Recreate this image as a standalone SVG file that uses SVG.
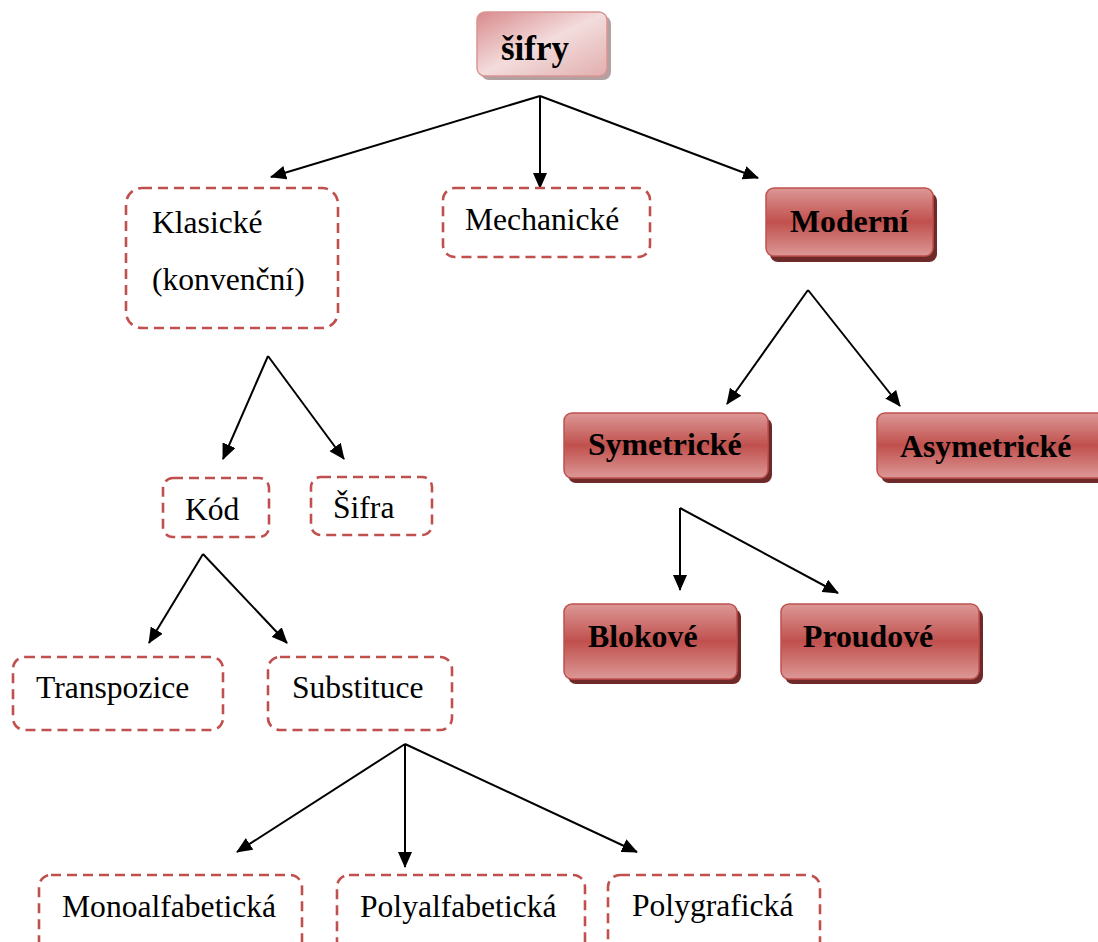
<svg xmlns="http://www.w3.org/2000/svg" width="1098" height="942" viewBox="0 0 1098 942">
  <style>
    .dash { fill: #ffffff; stroke: #c0504d; stroke-width: 2.6; stroke-dasharray: 10 6; }
    .red { fill: url(#redGrad); stroke: #c0504d; stroke-width: 1.5; }
    .redShadow { fill: #6e2a28; }
    text { font-family: 'Liberation Serif', 'Times New Roman', 'DejaVu Serif', serif; fill: #000; }
    .t { font-size: 31.6px; }
    .tb { font-size: 31.8px; font-weight: bold; }
    .edge { stroke: #000; stroke-width: 2; fill: none; marker-end: url(#arrow); }
  </style>
  <defs>
    <linearGradient id="redGrad" x1="0" y1="0" x2="0" y2="1">
      <stop offset="0" stop-color="#dc9896"/>
      <stop offset="0.5" stop-color="#c0504d"/>
      <stop offset="1" stop-color="#dc9896"/>
    </linearGradient>
    <linearGradient id="pinkGrad" x1="0" y1="0" x2="1" y2="1">
      <stop offset="0" stop-color="#d98a8c"/>
      <stop offset="0.5" stop-color="#f3dcdc"/>
      <stop offset="1" stop-color="#e2aeae"/>
    </linearGradient>
    <marker id="arrow" viewBox="0 0 16 14" refX="15" refY="7" markerWidth="16" markerHeight="14" markerUnits="userSpaceOnUse" orient="auto">
      <path d="M0,0 L16,7 L0,14 Z" fill="#000"/>
    </marker>
  </defs>

  <!-- connectors -->
  <g id="connectors">
    <line class="edge" x1="540" y1="96" x2="271" y2="177"/>
    <line class="edge" x1="540" y1="96" x2="540" y2="188"/>
    <line class="edge" x1="540" y1="96" x2="758" y2="178"/>
    <line class="edge" x1="268" y1="356" x2="223" y2="459"/>
    <line class="edge" x1="268" y1="356" x2="344" y2="459"/>
    <line class="edge" x1="203" y1="554" x2="149" y2="643"/>
    <line class="edge" x1="203" y1="554" x2="287" y2="643"/>
    <line class="edge" x1="405" y1="744" x2="237" y2="852"/>
    <line class="edge" x1="405" y1="744" x2="405" y2="867"/>
    <line class="edge" x1="405" y1="744" x2="637" y2="852"/>
    <line class="edge" x1="808" y1="290" x2="727" y2="404"/>
    <line class="edge" x1="808" y1="290" x2="900" y2="406"/>
    <line class="edge" x1="680" y1="508" x2="680" y2="590"/>
    <line class="edge" x1="680" y1="508" x2="838" y2="593"/>
  </g>

  <!-- root -->
  <g id="n-sifry">
    <rect x="481" y="16" width="130" height="64" rx="8" fill="#a08a8a" opacity="0.8"/>
    <rect x="477" y="12" width="130" height="64" rx="8" fill="url(#pinkGrad)" stroke="#d99594" stroke-width="1.5"/>
    <text class="tb" x="501" y="60" style="font-size:35px">šifry</text>
  </g>

  <!-- classical branch -->
  <g id="n-klasicke">
    <rect class="dash" x="126" y="188" width="212" height="140" rx="16"/>
    <text class="t" x="152" y="233">Klasické</text>
    <text class="t" x="152" y="290">(konvenční)</text>
  </g>
  <g id="n-mechanicke">
    <rect class="dash" x="443" y="188" width="207" height="69" rx="12"/>
    <text class="t" x="465" y="230">Mechanické</text>
  </g>
  <g id="n-kod">
    <rect class="dash" x="163" y="478" width="106" height="59" rx="10"/>
    <text class="t" x="185" y="520">Kód</text>
  </g>
  <g id="n-sifra">
    <rect class="dash" x="311" y="477" width="121" height="58" rx="10"/>
    <text class="t" x="333" y="518">Šifra</text>
  </g>
  <g id="n-transpozice">
    <rect class="dash" x="13" y="657" width="210" height="73" rx="12"/>
    <text class="t" x="36" y="698">Transpozice</text>
  </g>
  <g id="n-substituce">
    <rect class="dash" x="268" y="657" width="184" height="73" rx="12"/>
    <text class="t" x="292" y="698">Substituce</text>
  </g>
  <g id="n-mono">
    <rect class="dash" x="39" y="875" width="263" height="90" rx="12"/>
    <text class="t" x="62" y="917">Monoalfabetická</text>
  </g>
  <g id="n-poly">
    <rect class="dash" x="337" y="875" width="248" height="90" rx="12"/>
    <text class="t" x="360" y="917">Polyalfabetická</text>
  </g>
  <g id="n-polygraf">
    <rect class="dash" x="608" y="875" width="212" height="90" rx="12"/>
    <text class="t" x="632" y="916">Polygrafická</text>
  </g>

  <!-- modern branch -->
  <g id="n-moderni">
    <rect class="redShadow" x="770" y="193" width="167" height="69" rx="8"/>
    <rect class="red" x="766" y="188" width="167" height="68" rx="8"/>
    <text class="tb" x="790" y="232">Moderní</text>
  </g>
  <g id="n-symetricke">
    <rect class="redShadow" x="568" y="418" width="204" height="65" rx="8"/>
    <rect class="red" x="564" y="413" width="204" height="65" rx="8"/>
    <text class="tb" x="588" y="455">Symetrické</text>
  </g>
  <g id="n-asymetricke">
    <rect class="redShadow" x="881" y="418" width="230" height="65" rx="8"/>
    <rect class="red" x="877" y="413" width="230" height="65" rx="8"/>
    <text class="tb" x="900" y="457">Asymetrické</text>
  </g>
  <g id="n-blokove">
    <rect class="redShadow" x="568" y="609" width="173" height="75" rx="8"/>
    <rect class="red" x="564" y="604" width="173" height="75" rx="8"/>
    <text class="tb" x="588" y="647">Blokové</text>
  </g>
  <g id="n-proudove">
    <rect class="redShadow" x="785" y="609" width="198" height="75" rx="8"/>
    <rect class="red" x="781" y="604" width="198" height="75" rx="8"/>
    <text class="tb" x="803" y="647">Proudové</text>
  </g>
</svg>
